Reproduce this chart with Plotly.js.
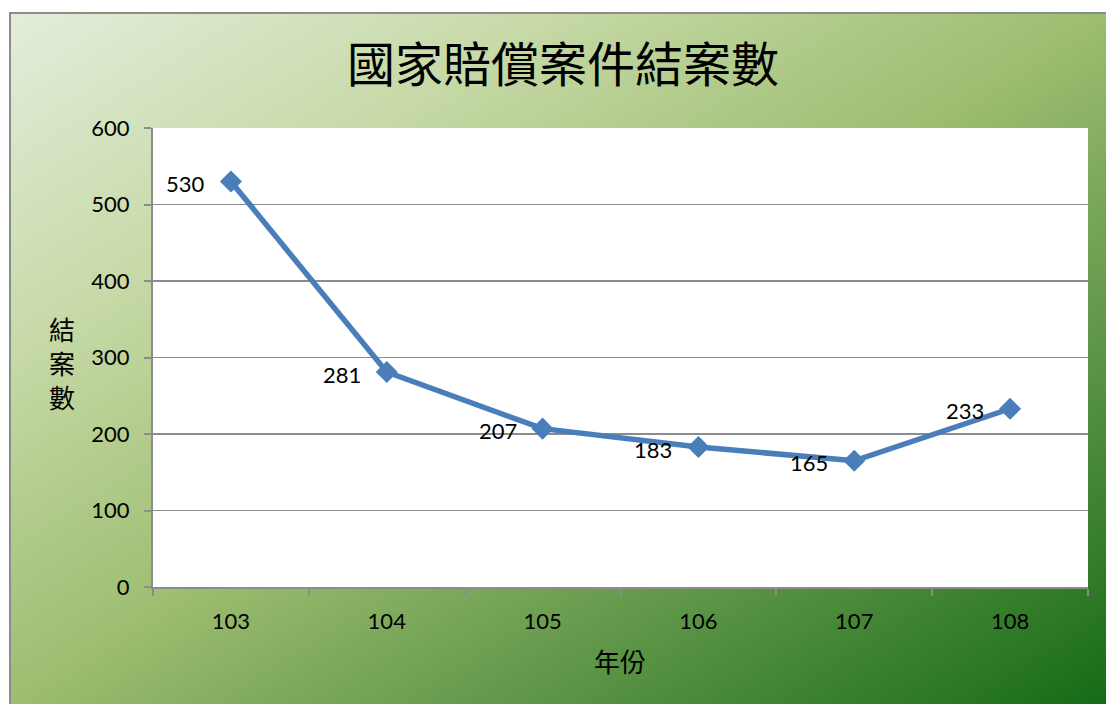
<!DOCTYPE html>
<html>
<head>
<meta charset="utf-8">
<script src="https://cdn.plot.ly/plotly-3.0.1.min.js"></script>
<style>
  html, body { margin: 0; padding: 0; background: #ffffff; }
  #bg {
    position: absolute; left: 9px; top: 12px; width: 1097px; height: 692px;
    box-sizing: border-box;
    border-left: 2px solid #8c8c8c; border-top: 2px solid #8c8c8c;
    background: linear-gradient(to bottom right, #e3eddb 0%, #c6d9a6 25%, #9dbd70 50%, #62984a 72%, #166b16 100%);
  }
  #chart { position: absolute; left: 0; top: 0; width: 1106px; height: 704px; }
</style>
</head>
<body>
<div id="bg"></div>
<div id="chart"></div>
<script>
const years = ['103', '104', '105', '106', '107', '108'];
const counts = [530, 281, 207, 183, 165, 233];
const yTicks = [0, 100, 200, 300, 400, 500, 600];
const chartTitle = '國家賠償案件結案數';
const xTitle = '年份';
const yTitle = '結<br>案<br>數';

const numFont = 'Lato, "Noto Sans CJK TC", sans-serif';
const cjkFont = '"Noto Sans CJK TC", sans-serif';

const trace = {
  type: 'scatter',
  mode: 'lines+markers',
  x: years,
  y: counts,
  line: { color: '#4a7ebb', width: 5.5 },
  marker: { symbol: 'diamond', size: 17, color: '#4a7ebb' },
  hoverinfo: 'skip'
};

// annotation x uses the category index on the category axis
const labelAnnotations = years.map((yr, i) => ({
  x: i, y: counts[i], xref: 'x', yref: 'y',
  text: String(counts[i]), showarrow: false,
  xanchor: 'right', yanchor: 'middle', xshift: -24, yshift: -2,
  font: { family: numFont, size: 22, color: '#000000' }
}));

const layout = {
  width: 1106, height: 704,
  margin: { l: 153, r: 18, t: 128, b: 117 },
  paper_bgcolor: 'rgba(0,0,0,0)',
  plot_bgcolor: '#ffffff',
  showlegend: false,
  title: {
    text: chartTitle,
    font: { family: cjkFont, size: 48, color: '#000000' },
    xref: 'container', yref: 'container',
    x: 0.509, xanchor: 'center', y: 0.907, yanchor: 'middle'
  },
  xaxis: {
    type: 'category',
    categoryorder: 'array', categoryarray: years,
    range: [-0.5, years.length - 0.5],
    autorange: false,
    tickson: 'boundaries',
    ticks: 'outside', ticklen: 7, tickwidth: 2, tickcolor: '#8c8c8c',
    showline: true, linecolor: '#8c8c8c', linewidth: 2,
    showgrid: false,
    tickangle: 0,
    tickfont: { family: numFont, size: 22, color: '#000000' },
    ticklabelstandoff: 14,
    fixedrange: true
  },
  yaxis: {
    range: [0, 600],
    autorange: false,
    tickvals: yTicks,
    ticktext: yTicks.map(String),
    ticks: 'outside', ticklen: 7, tickwidth: 2, tickcolor: '#8c8c8c',
    showline: true, linecolor: '#8c8c8c', linewidth: 2,
    showgrid: true, gridcolor: '#8c8c8c', gridwidth: 1.5,
    zeroline: false,
    tickfont: { family: numFont, size: 22, color: '#000000' },
    ticklabelstandoff: 10,
    fixedrange: true
  },
  annotations: labelAnnotations.concat([
    {
      text: yTitle, showarrow: false, xref: 'paper', yref: 'paper',
      x: (62 - 153) / 935, y: (587 - 362) / 459,
      xanchor: 'center', yanchor: 'middle',
      font: { family: cjkFont, size: 26, color: '#000000' }
    },
    {
      text: xTitle, showarrow: false, xref: 'paper', yref: 'paper',
      x: (620 - 153) / 935, y: (587 - 660) / 459,
      xanchor: 'center', yanchor: 'middle',
      font: { family: cjkFont, size: 26, color: '#000000' }
    }
  ])
};

Plotly.newPlot('chart', [trace], layout, { displayModeBar: false, staticPlot: true });
</script>
</body>
</html>
